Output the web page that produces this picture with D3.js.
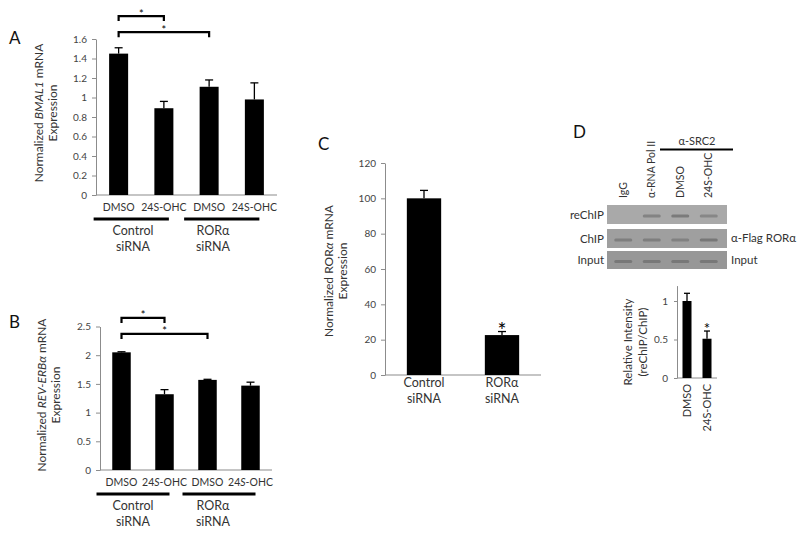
<!DOCTYPE html>
<html>
<head>
<meta charset="utf-8">
<script src="https://cdn.jsdelivr.net/npm/d3@7"></script>
<style>
  html, body { margin: 0; padding: 0; background: #fff; }
  svg { display: block; font-family: Lato, "Open Sans", sans-serif; }
</style>
</head>
<body>
<svg id="chart" width="800" height="538"></svg>
<script>
// ---------------- DATA ----------------
const treatments = ["DMSO", "24S-OHC", "DMSO", "24S-OHC"];
const siGroups = ["Control", "RORα"];

const bmal1 = [1.45, 0.89, 1.11, 0.98];
const bmal1Err = [0.06, 0.07, 0.07, 0.17];
const bmal1Ticks = [0, 0.2, 0.4, 0.6, 0.8, 1, 1.2, 1.4, 1.6];
const bmal1Sig = [{ a: 0, b: 1, level: 1.835 }, { a: 0, b: 2, level: 1.67 }];

const reverb = [2.05, 1.32, 1.57, 1.47];
const reverbErr = [0.01, 0.08, 0.01, 0.06];
const reverbTicks = [0, 0.5, 1, 1.5, 2, 2.5];
const reverbSig = [{ a: 0, b: 1, level: 2.65 }, { a: 0, b: 2, level: 2.37 }];

const roraCats = ["Control", "RORα"];
const rora = [100, 22.6];
const roraErr = [4.5, 2.0];
const roraTicks = [0, 20, 40, 60, 80, 100, 120];

const chipCats = ["DMSO", "24S-OHC"];
const intensity = [1.0, 0.51];
const intensityErr = [0.1, 0.1];
const intensityTicks = [0, 0.5, 1];

const lanes = ["IgG", "α-RNA Pol II", "DMSO", "24S-OHC"];
const blotRows = ["reChIP", "ChIP", "Input"];
const bandStrength = [
  [0.0, 0.5, 0.6, 0.45],
  [0.5, 0.5, 0.45, 0.6],
  [0.55, 0.55, 0.55, 0.55]
];

// ---------------- DRAW ----------------
const svg = d3.select("#chart");
const axisColor = "#8c8c8c";
const textColor = "#333";

function barPanel(cfg) {
  const g = svg.append("g");
  const x = d3.scaleBand().domain(d3.range(cfg.values.length)).range(cfg.xr).padding(0);
  const y = d3.scaleLinear().domain(cfg.domain).range(cfg.yr);
  const bw = x.bandwidth() * cfg.barFrac;
  const cx = i => x(i) + x.bandwidth() / 2;

  const ay = g.append("g").attr("transform", `translate(${cfg.xr[0]},0)`)
    .call(d3.axisLeft(y).tickValues(cfg.ticks).tickSize(4).tickPadding(5)
      .tickFormat(d => String(d)).tickSizeOuter(0));
  ay.select(".domain").attr("stroke", axisColor);
  ay.selectAll(".tick line").attr("stroke", axisColor);
  ay.selectAll(".tick text").attr("fill", "#444").style("font-size", cfg.tickFont + "px")
    .style("font-family", "Lato, 'Open Sans', sans-serif");

  g.append("line").attr("x1", cfg.xr[0]).attr("x2", cfg.xr[1])
    .attr("y1", y(0)).attr("y2", y(0)).attr("stroke", axisColor).attr("stroke-width", 1.2);

  g.selectAll("rect.bar").data(cfg.values).join("rect").attr("class", "bar")
    .attr("x", (d, i) => cx(i) - bw / 2).attr("width", bw)
    .attr("y", d => y(d)).attr("height", d => y(0) - y(d)).attr("fill", "#000");

  const cap = cfg.cap;
  cfg.errs.forEach((e, i) => {
    const top = y(cfg.values[i] + e);
    g.append("line").attr("x1", cx(i)).attr("x2", cx(i))
      .attr("y1", y(cfg.values[i])).attr("y2", top).attr("stroke", "#000").attr("stroke-width", 1.3);
    g.append("line").attr("x1", cx(i) - cap).attr("x2", cx(i) + cap)
      .attr("y1", top).attr("y2", top).attr("stroke", "#000").attr("stroke-width", 1.3);
  });

  (cfg.sig || []).forEach(s => {
    const x1 = cx(s.a), x2 = cx(s.b), yy = y(s.level);
    g.append("path").attr("d", `M${x1},${yy + 5}V${yy}H${x2}V${yy + 5}`)
      .attr("fill", "none").attr("stroke", "#000").attr("stroke-width", 2.2);
    g.append("text").attr("x", (x1 + x2) / 2).attr("y", yy + 1.5).attr("text-anchor", "middle")
      .attr("fill", "#000").style("font-size", "11px").text("*");
  });

  return { g, x, y, cx, bw };
}

function treatmentLabel(g, cx, yPos, txt, italicS) {
  const t = g.append("text").attr("x", cx).attr("y", yPos).attr("text-anchor", "middle")
    .attr("fill", textColor).style("font-size", "10.5px");
  if (txt === "24S-OHC" && italicS) {
    t.append("tspan").text("24");
    t.append("tspan").style("font-style", "italic").text("S");
    t.append("tspan").text("-OHC");
  } else t.text(txt);
}

function groupedLabels(p, italicS, groupCenters) {
  const base = p.y(0);
  treatments.forEach((t, i) => treatmentLabel(p.g, p.cx(i), base + 16, t, italicS));
  [[0, 1], [2, 3]].forEach((pr, k) => {
    const x1 = p.cx(pr[0]) - 25, x2 = p.cx(pr[1]) + 5;
    p.g.append("line").attr("x1", x1).attr("x2", x2).attr("y1", base + 24).attr("y2", base + 24)
      .attr("stroke", "#000").attr("stroke-width", 3);
    const gc = groupCenters[k];
    p.g.append("text").attr("x", gc).attr("y", base + 40).attr("text-anchor", "middle")
      .attr("fill", textColor).style("font-size", "12.5px").text(siGroups[k]);
    p.g.append("text").attr("x", gc).attr("y", base + 56).attr("text-anchor", "middle")
      .attr("fill", textColor).style("font-size", "12.5px").text("siRNA");
  });
}

function yLabel(cx, cy, lines, size) {
  const t = svg.append("text").attr("transform", `translate(${cx},${cy}) rotate(-90)`)
    .attr("text-anchor", "middle").attr("fill", textColor).style("font-size", size + "px");
  lines.forEach((parts, li) => {
    const ts0 = t.append("tspan").attr("x", 0).attr("dy", li === 0 ? 0 : "1.2em");
    parts.forEach((p, pi) => {
      const ts = pi === 0 ? ts0 : t.append("tspan");
      ts.text(p.t);
      if (p.i) ts.style("font-style", "italic");
    });
  });
}

function panelLetter(x, y, l) {
  svg.append("text").attr("x", x).attr("y", y).attr("fill", "#111")
    .style("font-size", "17px").text(l);
}

// ---- Panel A ----
const pA = barPanel({
  values: bmal1, errs: bmal1Err, ticks: bmal1Ticks, domain: [0, 1.6],
  xr: [96, 277], yr: [195, 39], barFrac: 0.42, cap: 4, tickFont: 10, sig: bmal1Sig
});
groupedLabels(pA, false, [133, 213]);
yLabel(43, 113, [[{ t: "Normalized " }, { t: "BMAL1", i: true }, { t: " mRNA" }], [{ t: "Expression" }]], 12);
panelLetter(9, 44, "A");

// ---- Panel B ----
const pB = barPanel({
  values: reverb, errs: reverbErr, ticks: reverbTicks, domain: [0, 2.5],
  xr: [100, 272], yr: [470, 326.5], barFrac: 0.43, cap: 4, tickFont: 10, sig: reverbSig
});
groupedLabels(pB, true, [133, 213]);
yLabel(46, 395, [[{ t: "Normalized " }, { t: "REV-ERBα", i: true }, { t: " mRNA" }], [{ t: "Expression" }]], 12);
panelLetter(9, 328, "B");

// ---- Panel C ----
const pC = barPanel({
  values: rora, errs: roraErr, ticks: roraTicks, domain: [0, 120],
  xr: [385, 541], yr: [375, 163], barFrac: 0.44, cap: 4, tickFont: 10
});
roraCats.forEach((c, i) => {
  pC.g.append("text").attr("x", pC.cx(i)).attr("y", 387).attr("text-anchor", "middle")
    .attr("fill", textColor).style("font-size", "12.5px").text(c);
  pC.g.append("text").attr("x", pC.cx(i)).attr("y", 403).attr("text-anchor", "middle")
    .attr("fill", textColor).style("font-size", "12.5px").text("siRNA");
});
pC.g.append("text").attr("x", pC.cx(1)).attr("y", pC.y(rora[1] + roraErr[1]) + 6).attr("text-anchor", "middle")
  .attr("fill", "#000").style("font-size", "21px").text("*");
{
  const t = svg.append("text").attr("transform", `translate(333,271) rotate(-90)`)
    .attr("text-anchor", "middle").attr("fill", textColor).style("font-size", "12px");
  const l1 = t.append("tspan").attr("x", 0);
  l1.text("Normalized ROR");
  t.append("tspan").style("font-style", "italic").text("α");
  t.append("tspan").text(" mRNA");
  t.append("tspan").attr("x", 0).attr("dy", "1.2em").text("Expression");
}
panelLetter(318, 150, "C");

// ---- Panel D: blot ----
panelLetter(573, 138, "D");
const blotX = [607, 727];
const rowY = [[205, 224], [229, 248], [251, 269]];
const rowFill = ["#a9a9a9", "#9f9f9f", "#979797"];
const lx = d3.scaleBand().domain(lanes).range([609, 723]).padding(0);
const laneC = l => lx(l) + lx.bandwidth() / 2;

blotRows.forEach((r, ri) => {
  svg.append("rect").attr("x", blotX[0]).attr("y", rowY[ri][0])
    .attr("width", blotX[1] - blotX[0]).attr("height", rowY[ri][1] - rowY[ri][0]).attr("fill", rowFill[ri]);
  const bandY = (rowY[ri][0] + rowY[ri][1]) / 2 + 1.5;
  lanes.forEach((l, li) => {
    const s = bandStrength[ri][li];
    if (s <= 0) return;
    svg.append("rect").attr("x", laneC(l) - 9).attr("y", bandY - 1.5)
      .attr("width", 18).attr("height", 3).attr("rx", 1.5)
      .attr("fill", "#5e5e5e").attr("opacity", s);
  });
  svg.append("text").attr("x", 604).attr("y", (rowY[ri][0] + rowY[ri][1]) / 2 + 4)
    .attr("text-anchor", "end").attr("fill", textColor).style("font-size", "11.5px").text(r);
});
svg.append("text").attr("x", 731).attr("y", 242).attr("fill", textColor).style("font-size", "11.5px").text("α-Flag RORα");
svg.append("text").attr("x", 731).attr("y", 264).attr("fill", textColor).style("font-size", "11.5px").text("Input");

lanes.forEach(l => {
  svg.append("text").attr("transform", `translate(${laneC(l) + 3.5},198) rotate(-90)`)
    .attr("text-anchor", "start").attr("fill", textColor).style("font-size", "10.5px").text(l);
});
svg.append("line").attr("x1", 660).attr("x2", 733).attr("y1", 149.5).attr("y2", 149.5)
  .attr("stroke", "#000").attr("stroke-width", 2);
svg.append("text").attr("x", 697).attr("y", 145).attr("text-anchor", "middle")
  .attr("fill", textColor).style("font-size", "11px").text("α-SRC2");

// ---- Panel D: bar chart ----
const pD = barPanel({
  values: intensity, errs: intensityErr, ticks: intensityTicks, domain: [0, 1.2],
  xr: [677, 717], yr: [378, 285.6], barFrac: 0.45, cap: 3, tickFont: 10
});
pD.g.select("g").selectAll(".tick line").attr("x2", -3);
chipCats.forEach((c, i) => {
  pD.g.append("text").attr("transform", `translate(${pD.cx(i) + 4},384) rotate(-90)`)
    .attr("text-anchor", "end").attr("fill", textColor).style("font-size", "11px").text(c);
});
pD.g.append("text").attr("x", pD.cx(1)).attr("y", pD.y(intensity[1] + intensityErr[1]) + 3).attr("text-anchor", "middle")
  .attr("fill", "#000").style("font-size", "15px").text("*");
{
  const t = svg.append("text").attr("transform", `translate(632,342) rotate(-90)`)
    .attr("text-anchor", "middle").attr("fill", textColor).style("font-size", "11.5px");
  t.append("tspan").attr("x", 0).text("Relative Intensity");
  t.append("tspan").attr("x", 0).attr("dy", "1.3em").text("(reChIP/ChIP)");
}
</script>
</body>
</html>
